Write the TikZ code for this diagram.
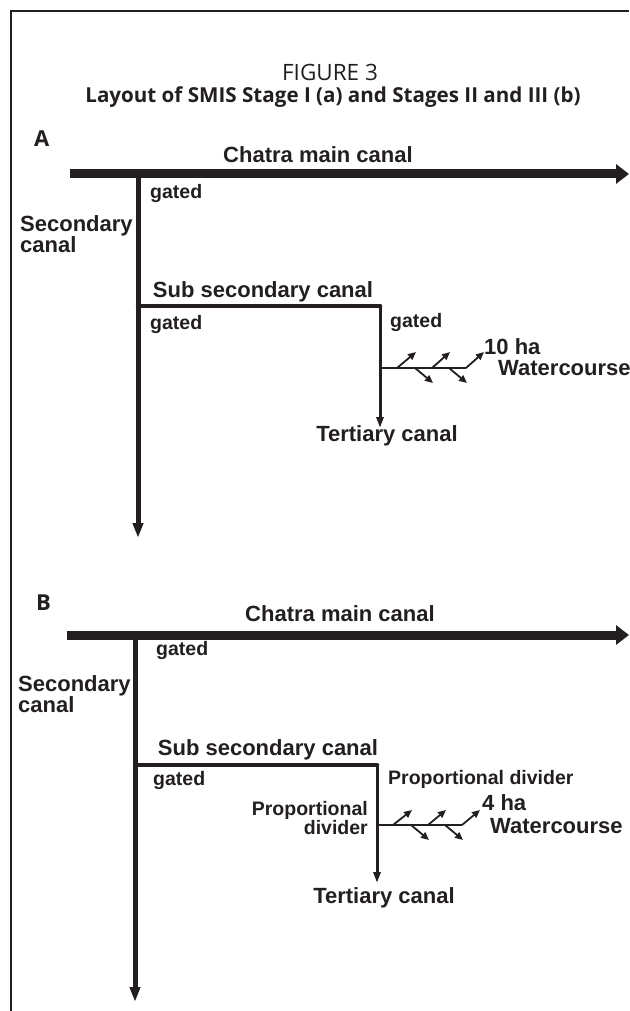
\documentclass[tikz,border=0pt]{standalone}
\usepackage{fontspec}
\setmainfont{Liberation Sans}
\newfontfamily\titlefont{Open Sans}
\usetikzlibrary{arrows.meta}
\definecolor{ink}{HTML}{231F20}
\begin{document}
\begin{tikzpicture}[x=1pt,y=-1pt,ink,
  lbl/.style={font=\bfseries\fontsize{22}{19}\selectfont, inner sep=0pt, text=ink},
  lblsmall/.style={font=\bfseries\fontsize{19.5}{19}\selectfont, inner sep=0pt, text=ink},
  panel/.style={font=\titlefont\bfseries\fontsize{22}{24}\selectfont, inner sep=0pt, text=ink},
  maincanal/.style={draw=ink, line width=9pt, -{Triangle[length=13pt,width=19pt]}},
  seccanal/.style={draw=ink, line width=5pt, -{Triangle[length=15pt,width=10pt]}},
  subcanal/.style={draw=ink, line width=4.5pt, line cap=round},
  tercanal/.style={draw=ink, line width=3pt, -{Triangle[length=11pt,width=7pt]}},
  wcourse/.style={draw=ink, line width=2pt},
  branch/.style={draw=ink, line width=1.8pt, -{Triangle[length=8pt,width=7pt]}},
  framestyle/.style={draw=ink, line width=1.5pt}]
\useasboundingbox (0,0) rectangle (629,1011);
% frame
\coordinate (fb) at (11,1011);
\coordinate (fc) at (11,11);
\coordinate (fr) at (629,11);
\draw[framestyle] (fb) -- (fc) -- (fr);
% title
\node[font=\titlefont\fontsize{22.5}{24}\selectfont, text=ink] (fig) at (330,72) {FIGURE 3};
\node[font=\titlefont\bfseries\fontsize{20.6}{24}\selectfont, text=ink] (title) at (333,97) {Layout of SMIS Stage I (a) and Stages II and III (b)};

% ---------------- Panel A ----------------
\node[panel, anchor=west] (pA) at (34,139) {A};
\coordinate (mA0) at (70,174);
\coordinate (mA1) at (629,174);
\coordinate (sA0) at (138,174);
\coordinate (sA1) at (138,538);
\coordinate (uA0) at (138,306);
\coordinate (uA1) at (380,306);
\coordinate (tA1) at (380,428);
\coordinate (wA0) at (380,368);
\coordinate (wA1) at (466,368);
\coordinate (bA1) at (397,368); \coordinate (eA1) at (416,352);
\coordinate (bA2) at (432,368); \coordinate (eA2) at (450,352);
\coordinate (bA3) at (466,368); \coordinate (eA3) at (484,352);
\coordinate (bA4) at (415,368); \coordinate (eA4) at (433,383);
\coordinate (bA5) at (449,368); \coordinate (eA5) at (467,383);
\draw[maincanal] (mA0) -- (mA1);
\draw[seccanal] (sA0) -- (sA1);
\draw[subcanal] (uA0) -- (uA1);
\draw[tercanal] (uA1) -- (tA1);
\draw[wcourse] (wA0) -- (wA1);
\foreach \i in {1,...,5} {\draw[branch] (bA\i) -- (eA\i);}
\node[lbl] (chA) at (318,155) {Chatra main canal};
\node[lblsmall, anchor=west] (gA1) at (150,194) {gated};
\node[lbl, anchor=west, align=left] (scA) at (20,234) {Secondary\\canal};
\node[lbl] (ssA) at (263,292) {Sub secondary canal};
\node[lblsmall, anchor=west] (gA2) at (150,324) {gated};
\node[lblsmall, anchor=west] (gA3) at (390,322) {gated};
\node[lbl, anchor=west] (haA) at (484,347) {10 ha};
\node[lbl, anchor=west] (wcA) at (498,368) {Watercourse};
\node[lbl] (tcA) at (387,436) {Tertiary canal};

% ---------------- Panel B ----------------
\node[panel, anchor=west] (pB) at (36,603) {B};
\coordinate (mB0) at (67,635);
\coordinate (mB1) at (629,635);
\coordinate (sB0) at (135,635);
\coordinate (sB1) at (135,1002);
\coordinate (uB0) at (135,765);
\coordinate (uB1) at (377,765);
\coordinate (tB1) at (377,883);
\coordinate (wB0) at (377,825);
\coordinate (wB1) at (462,825);
\coordinate (bB1) at (393,825); \coordinate (eB1) at (412,810);
\coordinate (bB2) at (428,825); \coordinate (eB2) at (446,810);
\coordinate (bB3) at (462,825); \coordinate (eB3) at (480,810);
\coordinate (bB4) at (411,825); \coordinate (eB4) at (429,840);
\coordinate (bB5) at (445,825); \coordinate (eB5) at (463,840);
\draw[maincanal] (mB0) -- (mB1);
\draw[seccanal] (sB0) -- (sB1);
\draw[subcanal] (uB0) -- (uB1);
\draw[tercanal] (uB1) -- (tB1);
\draw[wcourse] (wB0) -- (wB1);
\foreach \i in {1,...,5} {\draw[branch] (bB\i) -- (eB\i);}
\node[lbl] (chB) at (340,614) {Chatra main canal};
\node[lblsmall, anchor=west] (gB1) at (156,650) {gated};
\node[lbl, anchor=west, align=left] (scB) at (18,694) {Secondary\\canal};
\node[lbl] (ssB) at (268,750) {Sub secondary canal};
\node[lblsmall, anchor=west] (gB2) at (153,780) {gated};
\node[lblsmall, anchor=west] (pdB1) at (388,779) {Proportional divider};
\node[lblsmall, anchor=east, align=right] (pdB2) at (368,818) {Proportional\\divider};
\node[lbl, anchor=west] (haB) at (482,803) {4 ha};
\node[lbl, anchor=west] (wcB) at (490,826) {Watercourse};
\node[lbl] (tcB) at (384,898) {Tertiary canal};
\end{tikzpicture}
\end{document}
